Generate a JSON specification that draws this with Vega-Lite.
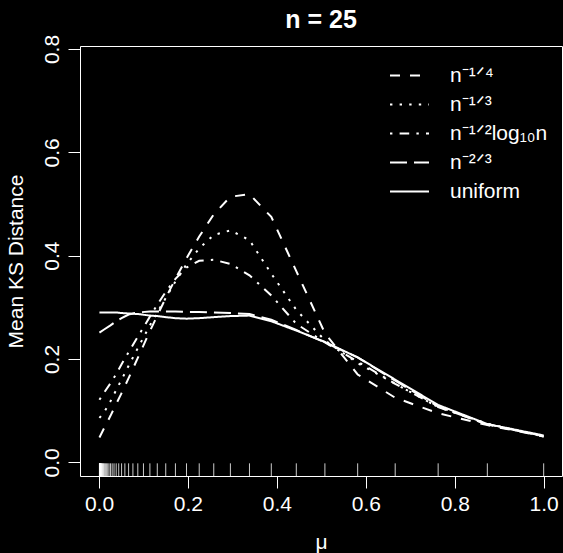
{
  "$schema": "https://vega.github.io/schema/vega-lite/v6.json",
  "width": 482,
  "height": 430,
  "autosize": {"type": "none"},
  "padding": {"left": 80, "top": 46, "right": 1, "bottom": 77},
  "background": "black",
  "title": {"text": "n = 25", "font": "Liberation Sans", "fontSize": 25, "fontWeight": "bold", "color": "white", "anchor": "middle", "offset": 1},
  "config": {
    "view": {"stroke": "white", "strokeWidth": 1},
    "axis": {"domain": false, "grid": false, "tickColor": "white", "tickWidth": 1, "tickSize": 12, "labelColor": "white", "titleColor": "white", "labelFont": "Liberation Sans", "titleFont": "Liberation Sans", "labelFontSize": 21, "titleFontSize": 21, "titleFontWeight": "normal"}
  },
  "datasets": {
    "curves": [
      {"mu": 0.001, "series": "n⁻¹ᐟ⁴", "ks": 0.048}, {"mu": 0.0115, "series": "n⁻¹ᐟ⁴", "ks": 0.066}, {"mu": 0.0258, "series": "n⁻¹ᐟ⁴", "ks": 0.09}, {"mu": 0.0387, "series": "n⁻¹ᐟ⁴", "ks": 0.113}, {"mu": 0.0508, "series": "n⁻¹ᐟ⁴", "ks": 0.134}, {"mu": 0.0666, "series": "n⁻¹ᐟ⁴", "ks": 0.163}, {"mu": 0.0873, "series": "n⁻¹ᐟ⁴", "ks": 0.202}, {"mu": 0.1145, "series": "n⁻¹ᐟ⁴", "ks": 0.254}, {"mu": 0.1311, "series": "n⁻¹ᐟ⁴", "ks": 0.284}, {"mu": 0.1501, "series": "n⁻¹ᐟ⁴", "ks": 0.318}, {"mu": 0.1719, "series": "n⁻¹ᐟ⁴", "ks": 0.355}, {"mu": 0.1968, "series": "n⁻¹ᐟ⁴", "ks": 0.395}, {"mu": 0.2254, "series": "n⁻¹ᐟ⁴", "ks": 0.437}, {"mu": 0.2581, "series": "n⁻¹ᐟ⁴", "ks": 0.48}, {"mu": 0.2955, "series": "n⁻¹ᐟ⁴", "ks": 0.514}, {"mu": 0.3384, "series": "n⁻¹ᐟ⁴", "ks": 0.519}, {"mu": 0.3875, "series": "n⁻¹ᐟ⁴", "ks": 0.475}, {"mu": 0.4437, "series": "n⁻¹ᐟ⁴", "ks": 0.37}, {"mu": 0.508, "series": "n⁻¹ᐟ⁴", "ks": 0.25}, {"mu": 0.5817, "series": "n⁻¹ᐟ⁴", "ks": 0.17}, {"mu": 0.6661, "series": "n⁻¹ᐟ⁴", "ks": 0.125}, {"mu": 0.7627, "series": "n⁻¹ᐟ⁴", "ks": 0.095}, {"mu": 0.8733, "series": "n⁻¹ᐟ⁴", "ks": 0.072}, {"mu": 1.0, "series": "n⁻¹ᐟ⁴", "ks": 0.05},
      {"mu": 0.001, "series": "n⁻¹ᐟ³", "ks": 0.086}, {"mu": 0.0115, "series": "n⁻¹ᐟ³", "ks": 0.097}, {"mu": 0.0258, "series": "n⁻¹ᐟ³", "ks": 0.118}, {"mu": 0.0387, "series": "n⁻¹ᐟ³", "ks": 0.14}, {"mu": 0.0508, "series": "n⁻¹ᐟ³", "ks": 0.16}, {"mu": 0.0666, "series": "n⁻¹ᐟ³", "ks": 0.187}, {"mu": 0.0873, "series": "n⁻¹ᐟ³", "ks": 0.221}, {"mu": 0.1145, "series": "n⁻¹ᐟ³", "ks": 0.265}, {"mu": 0.1311, "series": "n⁻¹ᐟ³", "ks": 0.29}, {"mu": 0.1501, "series": "n⁻¹ᐟ³", "ks": 0.318}, {"mu": 0.1719, "series": "n⁻¹ᐟ³", "ks": 0.35}, {"mu": 0.1968, "series": "n⁻¹ᐟ³", "ks": 0.383}, {"mu": 0.2254, "series": "n⁻¹ᐟ³", "ks": 0.414}, {"mu": 0.2581, "series": "n⁻¹ᐟ³", "ks": 0.44}, {"mu": 0.2955, "series": "n⁻¹ᐟ³", "ks": 0.449}, {"mu": 0.3384, "series": "n⁻¹ᐟ³", "ks": 0.43}, {"mu": 0.3875, "series": "n⁻¹ᐟ³", "ks": 0.365}, {"mu": 0.4437, "series": "n⁻¹ᐟ³", "ks": 0.295}, {"mu": 0.508, "series": "n⁻¹ᐟ³", "ks": 0.236}, {"mu": 0.5817, "series": "n⁻¹ᐟ³", "ks": 0.192}, {"mu": 0.6661, "series": "n⁻¹ᐟ³", "ks": 0.152}, {"mu": 0.7627, "series": "n⁻¹ᐟ³", "ks": 0.107}, {"mu": 0.8733, "series": "n⁻¹ᐟ³", "ks": 0.075}, {"mu": 1.0, "series": "n⁻¹ᐟ³", "ks": 0.05},
      {"mu": 0.001, "series": "n⁻¹ᐟ²log₁₀n", "ks": 0.121}, {"mu": 0.0115, "series": "n⁻¹ᐟ²log₁₀n", "ks": 0.135}, {"mu": 0.0258, "series": "n⁻¹ᐟ²log₁₀n", "ks": 0.153}, {"mu": 0.0387, "series": "n⁻¹ᐟ²log₁₀n", "ks": 0.171}, {"mu": 0.0508, "series": "n⁻¹ᐟ²log₁₀n", "ks": 0.19}, {"mu": 0.0666, "series": "n⁻¹ᐟ²log₁₀n", "ks": 0.213}, {"mu": 0.0873, "series": "n⁻¹ᐟ²log₁₀n", "ks": 0.243}, {"mu": 0.1145, "series": "n⁻¹ᐟ²log₁₀n", "ks": 0.282}, {"mu": 0.1311, "series": "n⁻¹ᐟ²log₁₀n", "ks": 0.305}, {"mu": 0.1501, "series": "n⁻¹ᐟ²log₁₀n", "ks": 0.33}, {"mu": 0.1719, "series": "n⁻¹ᐟ²log₁₀n", "ks": 0.355}, {"mu": 0.1968, "series": "n⁻¹ᐟ²log₁₀n", "ks": 0.377}, {"mu": 0.2254, "series": "n⁻¹ᐟ²log₁₀n", "ks": 0.39}, {"mu": 0.2581, "series": "n⁻¹ᐟ²log₁₀n", "ks": 0.392}, {"mu": 0.2955, "series": "n⁻¹ᐟ²log₁₀n", "ks": 0.384}, {"mu": 0.3384, "series": "n⁻¹ᐟ²log₁₀n", "ks": 0.362}, {"mu": 0.3875, "series": "n⁻¹ᐟ²log₁₀n", "ks": 0.323}, {"mu": 0.4437, "series": "n⁻¹ᐟ²log₁₀n", "ks": 0.268}, {"mu": 0.508, "series": "n⁻¹ᐟ²log₁₀n", "ks": 0.232}, {"mu": 0.5817, "series": "n⁻¹ᐟ²log₁₀n", "ks": 0.195}, {"mu": 0.6661, "series": "n⁻¹ᐟ²log₁₀n", "ks": 0.152}, {"mu": 0.7627, "series": "n⁻¹ᐟ²log₁₀n", "ks": 0.107}, {"mu": 0.8733, "series": "n⁻¹ᐟ²log₁₀n", "ks": 0.074}, {"mu": 1.0, "series": "n⁻¹ᐟ²log₁₀n", "ks": 0.05},
      {"mu": 0.001, "series": "n⁻²ᐟ³", "ks": 0.251}, {"mu": 0.0115, "series": "n⁻²ᐟ³", "ks": 0.257}, {"mu": 0.0258, "series": "n⁻²ᐟ³", "ks": 0.265}, {"mu": 0.0387, "series": "n⁻²ᐟ³", "ks": 0.273}, {"mu": 0.0508, "series": "n⁻²ᐟ³", "ks": 0.279}, {"mu": 0.0666, "series": "n⁻²ᐟ³", "ks": 0.286}, {"mu": 0.0873, "series": "n⁻²ᐟ³", "ks": 0.29}, {"mu": 0.1145, "series": "n⁻²ᐟ³", "ks": 0.292}, {"mu": 0.1311, "series": "n⁻²ᐟ³", "ks": 0.292}, {"mu": 0.1501, "series": "n⁻²ᐟ³", "ks": 0.292}, {"mu": 0.1719, "series": "n⁻²ᐟ³", "ks": 0.292}, {"mu": 0.1968, "series": "n⁻²ᐟ³", "ks": 0.291}, {"mu": 0.2254, "series": "n⁻²ᐟ³", "ks": 0.291}, {"mu": 0.2581, "series": "n⁻²ᐟ³", "ks": 0.29}, {"mu": 0.2955, "series": "n⁻²ᐟ³", "ks": 0.289}, {"mu": 0.3384, "series": "n⁻²ᐟ³", "ks": 0.287}, {"mu": 0.3875, "series": "n⁻²ᐟ³", "ks": 0.276}, {"mu": 0.4437, "series": "n⁻²ᐟ³", "ks": 0.256}, {"mu": 0.508, "series": "n⁻²ᐟ³", "ks": 0.232}, {"mu": 0.5817, "series": "n⁻²ᐟ³", "ks": 0.203}, {"mu": 0.6661, "series": "n⁻²ᐟ³", "ks": 0.158}, {"mu": 0.7627, "series": "n⁻²ᐟ³", "ks": 0.108}, {"mu": 0.8733, "series": "n⁻²ᐟ³", "ks": 0.073}, {"mu": 1.0, "series": "n⁻²ᐟ³", "ks": 0.051},
      {"mu": 0.001, "series": "uniform", "ks": 0.29}, {"mu": 0.0115, "series": "uniform", "ks": 0.29}, {"mu": 0.0258, "series": "uniform", "ks": 0.29}, {"mu": 0.0387, "series": "uniform", "ks": 0.29}, {"mu": 0.0508, "series": "uniform", "ks": 0.289}, {"mu": 0.0666, "series": "uniform", "ks": 0.288}, {"mu": 0.0873, "series": "uniform", "ks": 0.287}, {"mu": 0.1145, "series": "uniform", "ks": 0.284}, {"mu": 0.1311, "series": "uniform", "ks": 0.283}, {"mu": 0.1501, "series": "uniform", "ks": 0.281}, {"mu": 0.1719, "series": "uniform", "ks": 0.279}, {"mu": 0.1968, "series": "uniform", "ks": 0.278}, {"mu": 0.2254, "series": "uniform", "ks": 0.279}, {"mu": 0.2581, "series": "uniform", "ks": 0.281}, {"mu": 0.2955, "series": "uniform", "ks": 0.283}, {"mu": 0.3384, "series": "uniform", "ks": 0.284}, {"mu": 0.3875, "series": "uniform", "ks": 0.273}, {"mu": 0.4437, "series": "uniform", "ks": 0.255}, {"mu": 0.508, "series": "uniform", "ks": 0.233}, {"mu": 0.5817, "series": "uniform", "ks": 0.203}, {"mu": 0.6661, "series": "uniform", "ks": 0.16}, {"mu": 0.7627, "series": "uniform", "ks": 0.111}, {"mu": 0.8733, "series": "uniform", "ks": 0.074}, {"mu": 1.0, "series": "uniform", "ks": 0.052}
    ],
    "rug": [
      {"mu": 1.0}, {"mu": 0.8733}, {"mu": 0.7627}, {"mu": 0.6661}, {"mu": 0.5817}, {"mu": 0.508}, {"mu": 0.4437}, {"mu": 0.3875}, {"mu": 0.3384}, {"mu": 0.2955}, {"mu": 0.2581}, {"mu": 0.2254}, {"mu": 0.1968}, {"mu": 0.1719}, {"mu": 0.1501}, {"mu": 0.1311}, {"mu": 0.1145}, {"mu": 0.1}, {"mu": 0.0873}, {"mu": 0.0763}, {"mu": 0.0666}, {"mu": 0.0582}, {"mu": 0.0508}, {"mu": 0.0444}, {"mu": 0.0387}, {"mu": 0.0338}, {"mu": 0.0296}, {"mu": 0.0258}, {"mu": 0.0225}, {"mu": 0.0197}, {"mu": 0.0172}, {"mu": 0.015}, {"mu": 0.0131}, {"mu": 0.0115}, {"mu": 0.01}, {"mu": 0.0087}, {"mu": 0.0076}, {"mu": 0.0067}, {"mu": 0.0058}, {"mu": 0.0051}, {"mu": 0.0044}, {"mu": 0.0039}, {"mu": 0.0034}, {"mu": 0.003}, {"mu": 0.0026}, {"mu": 0.0023}, {"mu": 0.002}, {"mu": 0.0017}, {"mu": 0.0015}, {"mu": 0.0013}, {"mu": 0.0011}, {"mu": 0.001}
    ]
  },
  "layer": [
    {
      "data": {"name": "rug"},
      "mark": {"type": "rule", "color": "white", "strokeWidth": 0.8},
      "encoding": {
        "x": {"field": "mu", "type": "quantitative", "scale": {"domain": [-0.0427, 1.0412], "nice": false, "zero": false}},
        "y": {"datum": -0.0265, "type": "quantitative"},
        "y2": {"datum": -0.002}
      }
    },
    {
      "data": {"name": "curves"},
      "mark": {"type": "line", "color": "white", "strokeWidth": 2},
      "encoding": {
        "x": {"field": "mu", "type": "quantitative", "scale": {"domain": [-0.0427, 1.0412], "nice": false, "zero": false},
              "axis": {"values": [0, 0.2, 0.4, 0.6, 0.8, 1.0], "format": ".1f", "labelPadding": 5, "title": "μ", "titlePadding": 17}},
        "y": {"field": "ks", "type": "quantitative", "scale": {"domain": [-0.0265, 0.8058], "nice": false, "zero": false},
              "axis": {"values": [0, 0.2, 0.4, 0.6, 0.8], "format": ".1f", "labelAngle": -90, "labelAlign": "center", "labelBaseline": "bottom", "labelPadding": 6, "title": "Mean KS Distance", "titlePadding": 15}},
        "strokeDash": {"field": "series", "type": "nominal",
          "scale": {"domain": ["n⁻¹ᐟ⁴", "n⁻¹ᐟ³", "n⁻¹ᐟ²log₁₀n", "n⁻²ᐟ³", "uniform"], "range": [[10, 10], [2.4, 7.2], [2.4, 7.2, 9.6, 7.2], [17, 7], [1, 0]]},
          "legend": {"title": null, "orient": "none", "legendX": 309, "legendY": 15, "padding": 0, "symbolType": "stroke", "symbolSize": 1521, "symbolStrokeWidth": 2, "symbolStrokeColor": "white", "labelColor": "white", "labelFont": "Liberation Sans", "labelFontSize": 21, "labelOffset": 20, "rowPadding": 0, "clipHeight": 29, "labelLimit": 300}}
      }
    }
  ]
}
